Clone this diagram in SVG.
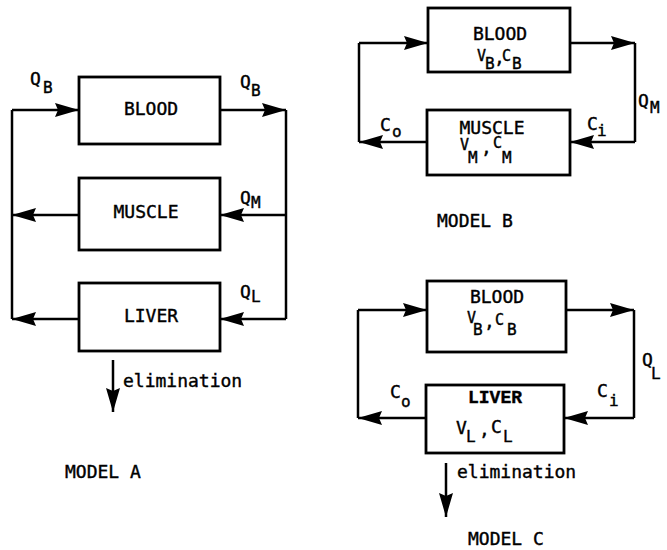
<svg xmlns="http://www.w3.org/2000/svg" width="667" height="550" viewBox="0 0 667 550">
<defs>
<marker id="ah" markerUnits="userSpaceOnUse" markerWidth="26" markerHeight="16" refX="24" refY="8" orient="auto">
<path d="M0,1 L24,8 L0,15 L3,8 Z" fill="#000"/>
</marker>
<style>
.box{fill:#fff;stroke:#000;stroke-width:2.8}
.ln{fill:none;stroke:#000;stroke-width:2.5}
.ar{fill:none;stroke:#000;stroke-width:2.5;marker-end:url(#ah)}
text{font-family:"DejaVu Sans Mono","Liberation Mono",monospace;font-size:18px;fill:#000;stroke:#000;stroke-width:0.4}
.c{text-anchor:middle}
.s{font-size:16px}
.v{font-size:15px}
.bold{font-family:"Liberation Mono","Courier New",monospace;font-weight:bold;font-size:18px}
</style>
</defs>
<rect width="667" height="550" fill="#fff"/>

<!-- MODEL A -->
<g id="a-blood"><rect class="box" x="79" y="77" width="141" height="67"/><text class="c" x="151" y="115">BLOOD</text></g>
<g id="a-muscle"><rect class="box" x="79" y="178" width="141" height="72"/><text class="c" x="146" y="218">MUSCLE</text></g>
<g id="a-liver"><rect class="box" x="79" y="283" width="141" height="68"/><text class="c" x="151" y="322">LIVER</text></g>

<!-- MODEL B -->
<g id="b-blood"><rect class="box" x="428" y="8" width="142" height="64"/>
<text class="c" x="500" y="40">BLOOD</text>
<text class="v" x="477" y="61">V</text><text class="s" x="485" y="69">B</text><text x="494" y="64">,</text><text class="v" x="502" y="61">C</text><text class="s" x="512" y="69">B</text>
</g>
<g id="b-muscle"><rect class="box" x="427" y="110" width="143" height="65"/>
<text class="c" x="492" y="134">MUSCLE</text>
<text class="v" x="460" y="150">V</text><text class="s" x="468" y="163">M</text><text x="481" y="154">,</text><text class="v" x="493" y="148">C</text><text class="s" x="502" y="163">M</text>
</g>

<!-- MODEL C -->
<g id="c-blood"><rect class="box" x="427" y="281" width="139" height="71"/>
<text class="c" x="497" y="303">BLOOD</text>
<text class="v" x="467" y="323">V</text><text class="s" x="473" y="335">B</text><text x="484" y="328">,</text><text class="v" x="495" y="325">C</text><text class="s" x="507" y="335">B</text>
</g>
<g id="c-liver"><rect class="box" x="426" y="385" width="138" height="68"/>
<text class="bold c" x="495" y="403">LIVER</text>
<text x="456" y="434">V</text><text class="s" x="466" y="442">L</text><text x="479" y="436">,</text><text x="491" y="433">C</text><text class="s" x="503" y="442">L</text>
</g>

<g id="connectors">
<!-- A -->
<path class="ln" d="M12,110 V319"/>
<path class="ln" d="M286,110 V319"/>
<path class="ar" d="M12,110 H79"/>
<path class="ar" d="M220,110 H286"/>
<path class="ar" d="M286,215 H220"/>
<path class="ar" d="M79,215 H12"/>
<path class="ar" d="M286,319 H220"/>
<path class="ar" d="M79,319 H12"/>
<path class="ar" d="M113,360 V412"/>
<!-- B -->
<path class="ln" d="M359,43 V142"/>
<path class="ln" d="M635,43 V142"/>
<path class="ar" d="M359,43 H428"/>
<path class="ar" d="M570,43 H635"/>
<path class="ar" d="M635,142 H570"/>
<path class="ar" d="M427,142 H359"/>
<!-- C -->
<path class="ln" d="M358,310 V418"/>
<path class="ln" d="M634,310 V418"/>
<path class="ar" d="M358,310 H427"/>
<path class="ar" d="M566,310 H634"/>
<path class="ar" d="M634,418 H564"/>
<path class="ar" d="M426,418 H358"/>
<path class="ar" d="M446,463 V517"/>
</g>

<g id="labels">
<!-- A -->
<text x="30" y="85">Q</text><text class="s" x="43" y="93">B</text>
<text x="240" y="88">Q</text><text class="s" x="251" y="96">B</text>
<text x="240" y="204">Q</text><text class="s" x="251" y="208">M</text>
<text x="240" y="298">Q</text><text class="s" x="251" y="302">L</text>
<text x="123" y="387">elimination</text>
<text x="65" y="478">MODEL A</text>
<!-- B -->
<text x="638" y="107">Q</text><text class="s" x="650" y="113">M</text>
<text x="380" y="131">C</text><text class="s" x="392" y="137">o</text>
<text x="587" y="130">C</text><text class="s" x="597" y="136">i</text>
<text x="437" y="227">MODEL B</text>
<!-- C -->
<text x="642" y="366">Q</text><text class="s" x="651" y="379">L</text>
<text x="390" y="398">C</text><text class="s" x="401" y="407">o</text>
<text x="597" y="397">C</text><text class="s" x="609" y="406">i</text>
<text x="457" y="478">elimination</text>
<text x="468" y="545">MODEL C</text>
</g>
</svg>
